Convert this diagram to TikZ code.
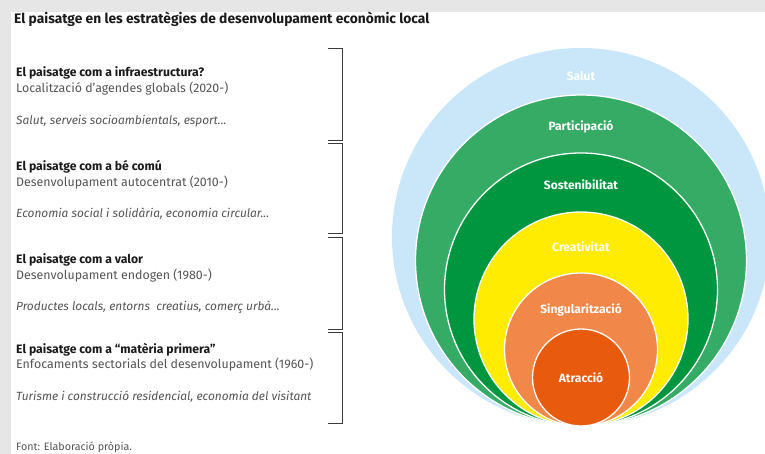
\documentclass[tikz,border=0pt]{standalone}
\usepackage{fontspec}
\setmainfont{Fira Sans}
\definecolor{bggray}{HTML}{E6E6E6}
\definecolor{cblue}{HTML}{C9E7F8}
\definecolor{cgreen}{HTML}{35AB65}
\definecolor{cdgreen}{HTML}{00963F}
\definecolor{cyellow}{HTML}{FFEC00}
\definecolor{corange}{HTML}{F1884A}
\definecolor{cdorange}{HTML}{E85B0E}
\definecolor{txtgray}{HTML}{555555}
\definecolor{txtdark}{HTML}{1A1A1A}
\definecolor{brk}{HTML}{3C3C3C}
\begin{document}
\begin{tikzpicture}[x=1pt,y=-1pt,
  ring/.style={draw=white,line width=1.3pt},
  rlabel/.style={text=white,font=\fontsize{12}{13}\selectfont\bfseries,inner sep=0},
  head/.style={anchor=west,inner sep=0,text=txtdark,font=\fontsize{12.2}{13}\selectfont\bfseries,text height=8.5pt,text depth=2.5pt},
  sub/.style={anchor=west,inner sep=0,text=txtgray,font=\fontsize{12.4}{13}\selectfont,text height=8.5pt,text depth=2.5pt},
  ex/.style={anchor=west,inner sep=0,text=txtgray,font=\fontsize{11.9}{13}\selectfont\itshape,text height=8.5pt,text depth=2.5pt},
  bracket/.style={draw=brk,line width=0.9pt}]
\useasboundingbox (0,0) rectangle (765,454);
\fill[bggray] (0,0) rectangle (765,454);
\fill[white] (11,12) rectangle (765,454);
% title
\node[anchor=west,inner sep=0,text=txtdark,font=\fontsize{13.8}{15}\selectfont\bfseries] (title) at (14,19) {El paisatge en les estratègies de desenvolupament econòmic local};
% circles
\begin{scope}
\clip (11,12) rectangle (765,454);
\fill[cblue] (581,237) circle (189);
\draw[ring,fill=cgreen] (581,260.5) circle (165.5);
\draw[ring,fill=cdgreen] (581,289.5) circle (136.5);
\draw[ring,fill=cyellow] (581,319) circle (107);
\draw[ring,fill=corange] (581,349.5) circle (76.5);
\draw[ring,fill=cdorange] (581,377.5) circle (48.5);
\end{scope}
\node[rlabel] (salut) at (581,76) {Salut};
\node[rlabel] (part) at (581,127) {Participació};
\node[rlabel] (sost) at (581,185) {Sostenibilitat};
\node[rlabel] (creat) at (581,247) {Creativitat};
\node[rlabel] (sing) at (581,310) {Singularització};
\node[rlabel] (atr) at (581,378) {Atracció};
% text blocks
\node[head] (h1) at (16,74) {El paisatge com a infraestructura?};
\node[sub] (s1) at (16,90) {Localització d’agendes globals (2020-)};
\node[ex] (e1) at (16,122) {Salut, serveis socioambientals, esport...};
\node[head] (h2) at (16,168) {El paisatge com a bé comú};
\node[sub] (s2) at (16,184) {Desenvolupament autocentrat (2010-)};
\node[ex] (e2) at (16,215) {Economia social i solidària, economia circular...};
\node[head] (h3) at (16,261) {El paisatge com a valor};
\node[sub] (s3) at (16,276) {Desenvolupament endogen (1980-)};
\node[ex] (e3) at (16,307) {Productes locals, entorns\ \ creatius, comerç urbà...};
\node[head] (h4) at (16,350) {El paisatge com a “matèria primera”};
\node[sub] (s4) at (16,365) {Enfocaments sectorials del desenvolupament (1960-)};
\node[ex] (e4) at (16,397) {Turisme i construcció residencial, economia del visitant};
\node[anchor=west,inner sep=0,text=txtgray,font=\fontsize{10.7}{12}\selectfont] (font) at (16,447) {Font: Elaboració pròpia.};
% brackets
\draw[bracket] (328,48) -- (342,48) -- (342,140) -- (328,140);
\draw[bracket] (328,143) -- (342,143) -- (342,233) -- (328,233);
\draw[bracket] (328,237) -- (342,237) -- (342,329) -- (328,329);
\draw[bracket] (328,332) -- (342,332) -- (342,423) -- (328,423);
\end{tikzpicture}
\end{document}
